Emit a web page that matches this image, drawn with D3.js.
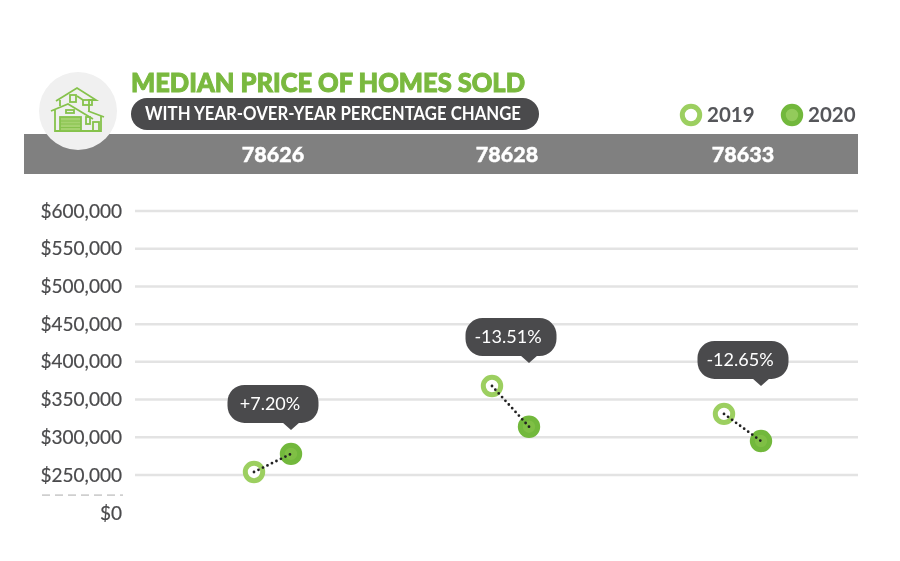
<!DOCTYPE html>
<html>
<head>
<meta charset="utf-8">
<script src="https://d3js.org/d3.v7.min.js"></script>
<style>
  html, body { margin: 0; padding: 0; background: #fff; }
  svg { display: block; filter: blur(0.5px); }
  text { font-family: Lato, "Open Sans", sans-serif; }
</style>
</head>
<body>
<div id="chart"></div>
<script>
// values
var zips       = ["78626", "78628", "78633"]
  , price2019  = [254000, 368000, 331000]
  , price2020  = [278000, 314000, 295000]
  , changes    = ["+7.20%", "-13.51%", "-12.65%"]
  , yTicks     = [0, 250000, 300000, 350000, 400000, 450000, 500000, 550000, 600000]
  , years      = ["2019", "2020"]

var width  = 900
  , height = 561
  , green  = "#7ab93f"
  , dark   = "#4a4a4c"
  , svg    = d3.select("#chart").append("svg").attr("width", width).attr("height", height)

// the axis is broken below 250,000, so the scale has two pieces
var y = d3.scaleLinear().domain([0, 250000, 600000]).range([513, 475, 211])
  , headerX = d3.scaleOrdinal(zips, [273, 507, 743])
  , groupX  = d3.scaleOrdinal(zips, [272.5, 510.5, 742.5])
  , yearDx  = d3.scaleOrdinal(years, [-18.5, 18.5])
  , legendX = d3.scaleOrdinal(years, [691, 792])
  , bubbleGap = d3.scaleOrdinal(zips, [24, 23, 28])
  , fmt     = d3.format("$,")

// header band + title
svg.append("rect").attr("x", 24).attr("y", 134).attr("width", 834).attr("height", 40).attr("fill", "#808080")
svg.append("circle").attr("cx", 78).attr("cy", 111).attr("r", 39).attr("fill", "#f0f0f0")

svg.append("text").attr("x", 131).attr("y", 92)
   .attr("font-size", 27).attr("font-weight", 900).attr("fill", green)
   .attr("stroke", green).attr("stroke-width", 1)
   .attr("textLength", 394).attr("lengthAdjust", "spacingAndGlyphs")
   .text("MEDIAN PRICE OF HOMES SOLD")

svg.append("rect").attr("x", 131).attr("y", 98).attr("width", 408).attr("height", 32).attr("rx", 16).attr("fill", dark)
svg.append("text").attr("x", 145).attr("y", 120)
   .attr("font-size", 18).attr("font-weight", 700).attr("fill", "#fff")
   .attr("textLength", 376).attr("lengthAdjust", "spacingAndGlyphs")
   .text("WITH YEAR-OVER-YEAR PERCENTAGE CHANGE")

svg.selectAll("text.zip").data(zips).enter().append("text").attr("class", "zip")
   .attr("x", function (d) { return headerX(d) })
   .attr("y", 162).attr("text-anchor", "middle")
   .attr("font-size", 21.5).attr("font-weight", 900).attr("fill", "#fff")
   .attr("stroke", "#fff").attr("stroke-width", 0.4)
   .text(function (d) { return d })

// house icon
var icon = svg.append("g").attr("fill", "none").attr("stroke", "#86c24c").attr("stroke-width", 1.8)
icon.append("path").attr("d", "M51 111 L68 104 L93 119 M55 110 V131 H101 V116 M88 111 L104 117")
icon.append("path").attr("d", "M56 101 L77 88 L96 100 L89 100 V112 M60 100 V106 M83 100 L77 96")
icon.append("rect").attr("x", 70).attr("y", 95).attr("width", 6).attr("height", 7)
icon.append("rect").attr("x", 83).attr("y", 100).attr("width", 9).attr("height", 5)
icon.append("rect").attr("x", 66).attr("y", 110).attr("width", 8).attr("height", 3)
icon.append("rect").attr("x", 60).attr("y", 117).attr("width", 21).attr("height", 14).attr("fill", "#a5d26f")
icon.append("path").attr("d", "M60 121 H81 M60 124 H81 M60 127.500 H81").attr("stroke-width", 1)
icon.append("rect").attr("x", 86).attr("y", 117).attr("width", 4).attr("height", 7)
icon.append("rect").attr("x", 93).attr("y", 122).attr("width", 6).attr("height", 9)

// legend
var legend = svg.selectAll("g.legend").data(years).enter().append("g").attr("class", "legend")
legend.append("circle")
   .attr("cx", function (d) { return legendX(d) })
   .attr("cy", 115).attr("r", 8.7)
   .attr("fill", function (d) { return d == "2019" ? "#fff" : "#93cb5b" })
   .attr("stroke", function (d) { return d == "2019" ? "#9ccf60" : "#72b83c" })
   .attr("stroke-width", 5)
legend.append("text")
   .attr("x", function (d) { return legendX(d) + 16 })
   .attr("y", 122).attr("font-size", 20.5).attr("font-weight", 700).attr("fill", "#55565a")
   .text(function (d) { return d })

// grid
svg.append("g").selectAll("line").data(yTicks.filter(function (d) { return d > 0 })).enter().append("line")
   .attr("x1", 135).attr("x2", 858)
   .attr("y1", function (d) { return y(d) }).attr("y2", function (d) { return y(d) })
   .attr("stroke", "#e3e3e3").attr("stroke-width", 2.5)

// axis break
svg.append("line").attr("x1", 42).attr("x2", 123).attr("y1", y(118000)).attr("y2", y(118000))
   .attr("stroke", "#cfcfcf").attr("stroke-width", 1.8).attr("stroke-dasharray", "8 5")

var axis = svg.append("g").attr("transform", "translate(122,0)")
   .call(d3.axisLeft(y).tickValues(yTicks).tickSize(0).tickPadding(0).tickFormat(fmt))
axis.select(".domain").remove()
axis.selectAll("text").attr("font-size", 19).attr("fill", dark)
   .attr("stroke", dark).attr("stroke-width", 0.2).style("font-family", "Lato, sans-serif")

// one group of marks per zip
var rows = zips.map(function (z, i) {
    return { zip: z, a: price2019[i], b: price2020[i], label: changes[i] }
})
var g = svg.selectAll("g.zipgroup").data(rows).enter().append("g").attr("class", "zipgroup")

// bubble
g.each(function (d) {
    var tip = groupX(d.zip) + yearDx("2020")
      , tipY = Math.min(y(d.a), y(d.b)) - bubbleGap(d.zip)
      , b = d3.select(this)
    b.append("rect").attr("x", tip - 63.5).attr("y", tipY - 45).attr("width", 91).attr("height", 38)
     .attr("rx", 17).attr("fill", dark)
    b.append("path").attr("fill", dark)
     .attr("d", "M" + (tip - 9) + " " + (tipY - 8) + " L" + tip + " " + tipY + " L" + (tip + 9) + " " + (tipY - 8) + " Z")
    b.append("text").attr("x", tip - 21).attr("y", tipY - 20)
     .attr("text-anchor", "middle").attr("font-size", 18).attr("fill", "#fff")
     .text(d.label)
})

g.append("circle")
   .attr("cx", function (d) { return groupX(d.zip) + yearDx("2019") })
   .attr("cy", function (d) { return y(d.a) })
   .attr("r", 8.7).attr("fill", "#fff").attr("stroke", "#9ccf60").attr("stroke-width", 5)
g.append("circle")
   .attr("cx", function (d) { return groupX(d.zip) + yearDx("2020") })
   .attr("cy", function (d) { return y(d.b) })
   .attr("r", 8.7).attr("fill", "#7fbf45").attr("stroke", "#72b83c").attr("stroke-width", 5)
g.append("line")
   .attr("x1", function (d) { return groupX(d.zip) + yearDx("2019") })
   .attr("x2", function (d) { return groupX(d.zip) + yearDx("2020") })
   .attr("y1", function (d) { return y(d.a) })
   .attr("y2", function (d) { return y(d.b) })
   .attr("stroke", "#222").attr("stroke-width", 2.8).attr("stroke-linecap", "round").attr("stroke-dasharray", "0 5")
</script>
</body>
</html>
